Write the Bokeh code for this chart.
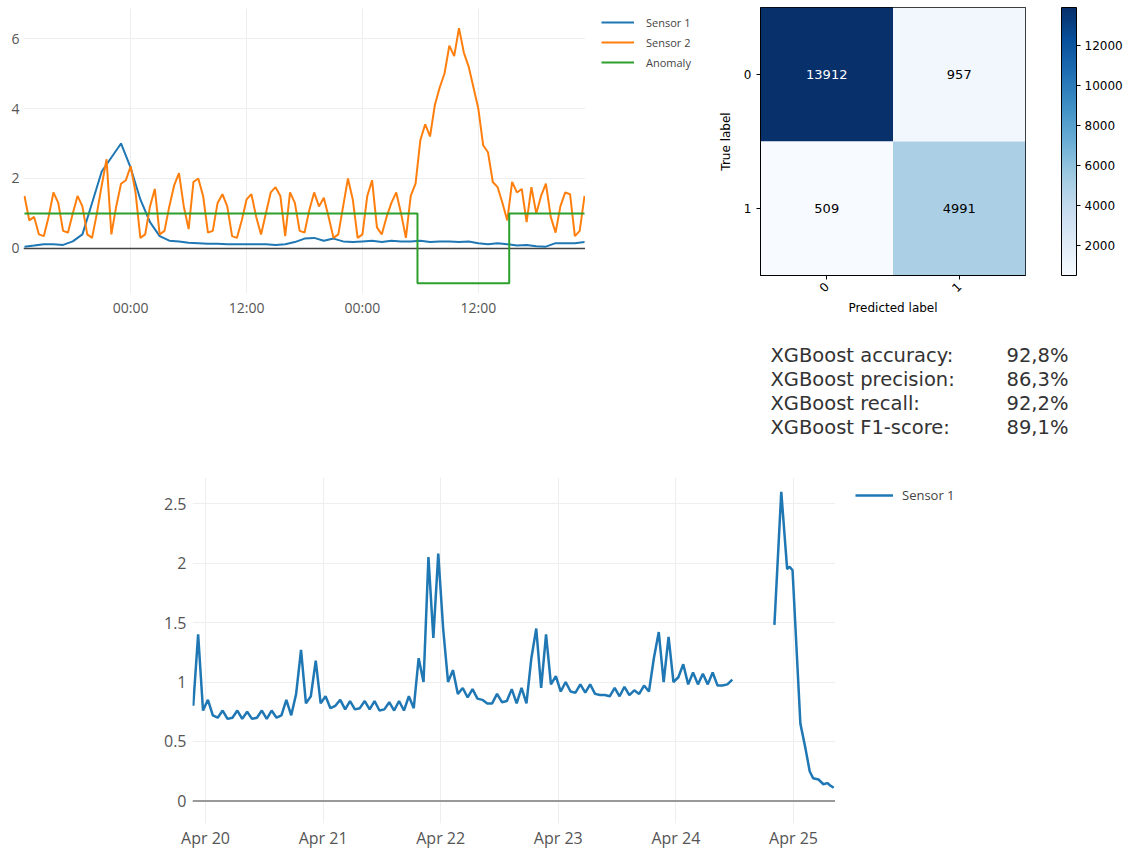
import pandas as pd
from math import pi

from bokeh.core.properties import value
from bokeh.embed import file_html
from bokeh.layouts import column, row
from bokeh.models import (ColorBar, ColumnDataSource, DatetimeTickFormatter,
                          FixedTicker, Legend, LegendItem, LinearColorMapper,
                          Range1d, Spacer, Span)
from bokeh.palettes import Blues256
from bokeh.plotting import figure
from bokeh.resources import INLINE

# ---------------------------------------------------------------- data
# Top panel: two sensors over ~2.5 days plus the anomaly flag
sensor_start = "2018-05-13 13:00"
sensor1_hourly = [
    0.05, 0.08, 0.12, 0.12, 0.10, 0.20, 0.40, 1.30, 2.20, 2.60,
    3.00, 2.30, 1.40, 0.75, 0.35, 0.22, 0.20, 0.16, 0.15, 0.13,
    0.13, 0.12, 0.12, 0.12, 0.12, 0.12, 0.10, 0.12, 0.18, 0.28,
    0.30, 0.22, 0.28, 0.20, 0.18, 0.20, 0.22, 0.18, 0.22, 0.20,
    0.20, 0.22, 0.18, 0.20, 0.20, 0.18, 0.20, 0.15, 0.12, 0.15,
    0.12, 0.08, 0.10, 0.06, 0.05, 0.15, 0.15, 0.15, 0.18,
]
sensor2_halfhourly = [
    1.50, 0.80, 0.90, 0.40, 0.35, 0.90, 1.60, 1.30, 0.50, 0.45,
    1.00, 1.50, 1.20, 0.40, 0.30, 1.00, 1.80, 2.55, 0.40, 1.20,
    1.85, 1.95, 2.35, 1.60, 0.30, 0.40, 1.20, 1.70, 0.40, 0.50,
    1.20, 1.80, 2.15, 1.20, 0.55, 1.90, 2.00, 1.50, 0.45, 0.50,
    1.30, 1.55, 1.20, 0.35, 0.30, 0.80, 1.40, 1.55, 0.90, 0.40,
    1.00, 1.60, 1.75, 1.50, 0.35, 1.60, 1.30, 0.50, 0.45, 1.10,
    1.60, 1.20, 1.45, 0.90, 0.30, 0.40, 1.20, 2.00, 1.40, 0.30,
    0.40, 1.50, 1.95, 0.60, 0.40, 0.90, 1.30, 1.60, 1.00, 0.30,
    1.50, 1.85, 3.10, 3.55, 3.20, 4.10, 4.60, 5.00, 5.80, 5.50,
    6.30, 5.60, 5.20, 4.60, 4.00, 2.95, 2.75, 1.90, 1.75, 1.30,
    0.80, 1.90, 1.60, 1.70, 0.75, 1.75, 1.00, 1.50, 1.85, 0.90,
    0.45, 1.20, 1.60, 1.55, 0.35, 0.50, 1.50,
]
anomaly_times = ["2018-05-13 13:00", "2018-05-15 05:42", "2018-05-15 15:12", "2018-05-15 23:00"]
anomaly_values = [1, -1, 1, 1]
top_x_window = ["2018-05-13 12:54", "2018-05-15 23:06"]
top_tick_times = ["2018-05-14 00:00", "2018-05-14 12:00", "2018-05-15 00:00", "2018-05-15 12:00"]
top_y_ticks = [0, 2, 4, 6]

# Confusion matrix of the classifier
class_labels = ["0", "1"]
conf_true = [0, 0, 1, 1]
conf_pred = [0, 1, 0, 1]
conf_counts = [13912, 957, 509, 4991]
colorbar_ticks = [2000, 4000, 6000, 8000, 10000, 12000]

# Scores
metric_names = ["XGBoost accuracy:", "XGBoost precision:", "XGBoost recall:", "XGBoost F1-score:"]
metric_values = ["92,8%", "86,3%", "92,2%", "89,1%"]

# Bottom panel: Sensor 1 over a week (hourly), then a short tail after a gap
week_start = "2017-04-19 21:30"
sensor1_week = [
    0.80, 1.40, 0.76, 0.85, 0.72, 0.70, 0.76, 0.69, 0.70, 0.76,
    0.69, 0.75, 0.69, 0.70, 0.76, 0.69, 0.76, 0.70, 0.72, 0.85,
    0.72, 0.90, 1.27, 0.82, 0.88, 1.18, 0.82, 0.88, 0.78, 0.80,
    0.85, 0.77, 0.84, 0.77, 0.78, 0.84, 0.77, 0.84, 0.76, 0.77,
    0.83, 0.76, 0.84, 0.76, 0.88, 0.78, 1.20, 1.00, 2.05, 1.37,
    2.08, 1.45, 1.00, 1.10, 0.90, 0.95, 0.87, 0.94, 0.86, 0.85,
    0.82, 0.82, 0.90, 0.83, 0.84, 0.94, 0.82, 0.95, 0.82, 1.20,
    1.45, 0.95, 1.40, 0.98, 1.05, 0.92, 1.00, 0.92, 0.91, 0.98,
    0.91, 0.98, 0.90, 0.89, 0.89, 0.88, 0.95, 0.88, 0.96, 0.89,
    0.93, 0.90, 0.97, 0.92, 1.20, 1.42, 1.00, 1.38, 1.00, 1.04,
    1.15, 0.98, 1.08, 0.98, 1.07, 0.98, 1.08, 0.97, 0.97, 0.98, 1.02,
]
tail_times = [
    "2017-04-24 20:06", "2017-04-24 21:30", "2017-04-24 22:42", "2017-04-24 23:12",
    "2017-04-24 23:48", "2017-04-25 01:24", "2017-04-25 02:24", "2017-04-25 03:18",
    "2017-04-25 04:00", "2017-04-25 05:06", "2017-04-25 06:06", "2017-04-25 06:54",
    "2017-04-25 07:30", "2017-04-25 08:12",
]
tail_values = [1.48, 2.60, 1.95, 1.97, 1.94, 0.65, 0.45, 0.25, 0.19, 0.18, 0.14, 0.15, 0.13, 0.11]
bottom_x_window = ["2017-04-19 21:21", "2017-04-25 08:34"]
bottom_tick_days = ["2017-04-20", "2017-04-21", "2017-04-22", "2017-04-23", "2017-04-24", "2017-04-25"]
bottom_y_ticks = [0, 0.5, 1, 1.5, 2, 2.5]
bottom_y_labels = ["0", "0.5", "1", "1.5", "2", "2.5"]

# ---------------------------------------------------------------- helpers
BLUE, ORANGE, GREEN = "#1f77b4", "#ff7f0e", "#2ca02c"
PLOTLY_FONT = "Open Sans"
MPL_FONT = "DejaVu Sans"


def ms(t):
    return pd.Timestamp(t).value // 10**6


def ts(t):
    return pd.Timestamp(t).to_pydatetime()


def plotly_axes(p, font_size, standoff_x, standoff_y):
    for ax in (p.xaxis, p.yaxis):
        ax.axis_line_color = None
        ax.major_tick_line_color = None
        ax.minor_tick_line_color = None
        ax.major_tick_out = 0
        ax.major_tick_in = 0
        ax.minor_tick_out = 0
        ax.minor_tick_in = 0
        ax.major_label_text_font = PLOTLY_FONT
        ax.major_label_text_font_size = font_size
        ax.major_label_text_color = "#555555"
    p.xaxis.major_label_standoff = standoff_x
    p.yaxis.major_label_standoff = standoff_y
    p.xgrid.grid_line_color = "#eeeeee"
    p.ygrid.grid_line_color = "#eeeeee"
    p.outline_line_color = None


def legend_panel(width, height, entries, left, top, glyph_width, standoff, font_size):
    """A strip that only shows a legend for the series of the chart on its left.

    Each series is added again here but sits far outside this strip's (0..1)
    ranges, so only its legend entry is visible."""
    f = figure(width=width, height=height, x_range=Range1d(0, 1), y_range=Range1d(0, 1),
               min_border_left=left, min_border_top=top, min_border_right=0, min_border_bottom=0,
               x_axis_location=None, y_axis_location=None,
               toolbar_location=None, output_backend="svg")
    f.grid.visible = False
    f.outline_line_color = None
    items = []
    for label, xs, ys, color, lw in entries:
        r = f.line(x=xs, y=ys, color=color, line_width=lw)
        items.append(LegendItem(label=label, renderers=[r]))
    f.add_layout(Legend(items=items, location="top_left", padding=0, margin=0, spacing=0,
                        glyph_width=glyph_width, glyph_height=20, label_height=20,
                        label_standoff=standoff, label_text_font=PLOTLY_FONT,
                        label_text_font_size=font_size, label_text_color="#444444",
                        border_line_color=None, background_fill_alpha=0))
    return f


# ---------------------------------------------------------------- top-left: sensors
t_s1 = pd.date_range(sensor_start, periods=len(sensor1_hourly), freq="60min")
t_s2 = pd.date_range(sensor_start, periods=len(sensor2_halfhourly), freq="30min")
t_anom = [ts(t) for t in anomaly_times]

p1 = figure(x_axis_type="datetime", frame_width=562, frame_height=285,
            min_border_left=23, min_border_right=0, min_border_top=8, min_border_bottom=37,
            x_range=Range1d(ts(top_x_window[0]), ts(top_x_window[1])),
            y_range=Range1d(-1.29, 6.86),
            toolbar_location=None, output_backend="svg")
plotly_axes(p1, "14px", 4, 4)
p1.xaxis.ticker = FixedTicker(ticks=[ms(t) for t in top_tick_times])
p1.xaxis.formatter = DatetimeTickFormatter(hours="%H:%M", hourmin="%H:%M", days="%H:%M",
                                           minutes="%H:%M", months="%H:%M", years="%H:%M")
p1.yaxis.ticker = FixedTicker(ticks=top_y_ticks)

p1.add_layout(Span(location=0, dimension="width", line_color="#444444",
                   line_width=1.5, level="underlay"))

p1.line(t_s1, sensor1_hourly, color=BLUE, line_width=2)
p1.line(t_s2, sensor2_halfhourly, color=ORANGE, line_width=2)
p1.step(t_anom, anomaly_values, mode="after", color=GREEN, line_width=2)

leg1 = legend_panel(115, 330,
                    [("Sensor 1", t_s1, sensor1_hourly, BLUE, 2),
                     ("Sensor 2", t_s2, sensor2_halfhourly, ORANGE, 2),
                     ("Anomaly", t_anom, anomaly_values, GREEN, 2)],
                    16, 12, 33, 12, "11px")

# ---------------------------------------------------------------- top-right: confusion matrix
mapper = LinearColorMapper(palette=list(reversed(Blues256)), low=min(conf_counts), high=max(conf_counts))
threshold = max(conf_counts) / 2
cm_src = ColumnDataSource(dict(
    pred=conf_pred, true=conf_true, count=conf_counts,
    label=[str(c) for c in conf_counts],
    label_color=["white" if c > threshold else "black" for c in conf_counts],
))

p2 = figure(width=425, height=330,
            min_border_left=60, min_border_top=7, min_border_right=95, min_border_bottom=55,
            x_range=Range1d(-0.5, 1.5), y_range=Range1d(1.5, -0.5),
            toolbar_location=None, output_backend="svg")
p2.rect(x="pred", y="true", width=1, height=1, source=cm_src,
        fill_color={"field": "count", "transform": mapper}, line_color=None)
p2.text(x="pred", y="true", text="label", source=cm_src,
        text_color={"field": "label_color"}, text_align="center", text_baseline="middle",
        text_font=value(MPL_FONT), text_font_size="13px")
p2.grid.grid_line_color = None
p2.outline_line_color = "black"
p2.outline_line_width = 1
p2.outline_line_alpha = 1
for ax in (p2.xaxis, p2.yaxis):
    ax.ticker = FixedTicker(ticks=list(range(len(class_labels))))
    ax.major_label_overrides = {i: lab for i, lab in enumerate(class_labels)}
    ax.major_tick_out = 4
    ax.major_tick_in = 0
    ax.major_tick_line_color = "black"
    ax.minor_tick_line_color = None
    ax.axis_line_color = "black"
    ax.major_label_text_font = MPL_FONT
    ax.major_label_text_font_size = "12px"
    ax.major_label_text_color = "black"
    ax.axis_label_text_font = MPL_FONT
    ax.axis_label_text_font_size = "12px"
    ax.axis_label_text_font_style = "normal"
    ax.axis_label_text_color = "black"
p2.xaxis.major_label_orientation = pi / 4
p2.xaxis.axis_label = "Predicted label"
p2.yaxis.axis_label = "True label"
p2.xaxis.axis_label_standoff = 2
p2.yaxis.axis_label_standoff = 8

cbar = ColorBar(color_mapper=mapper, width=15, height=268, location=(36, 0),
                margin=0, padding=0,
                ticker=FixedTicker(ticks=colorbar_ticks),
                bar_line_color="black", major_tick_line_color="black",
                major_tick_in=0, major_tick_out=4, label_standoff=4,
                major_label_text_font=MPL_FONT, major_label_text_font_size="12px",
                major_label_text_color="black", background_fill_alpha=0)
p2.add_layout(cbar, "right")

# ---------------------------------------------------------------- scores block
p3 = figure(width=423, height=120, x_range=Range1d(0, 423), y_range=Range1d(3.958, -1.042),
            min_border=0, x_axis_location=None, y_axis_location=None,
            toolbar_location=None, output_backend="svg")
p3.grid.visible = False
p3.outline_line_color = None
rows = list(range(len(metric_names)))
p3.text(x=[70] * len(rows), y=rows, text=metric_names, text_baseline="middle",
        text_font=value(MPL_FONT), text_font_size="19.5px", text_color="#333333")
p3.text(x=[306] * len(rows), y=rows, text=metric_values, text_baseline="middle",
        text_font=value(MPL_FONT), text_font_size="19.5px", text_color="#333333")

# ---------------------------------------------------------------- bottom: Sensor 1 week
t_week = pd.date_range(week_start, periods=len(sensor1_week), freq="60min")
t_tail = [ts(t) for t in tail_times]

p4 = figure(x_axis_type="datetime", frame_width=643, frame_height=346,
            min_border_left=192, min_border_right=0, min_border_top=27, min_border_bottom=25,
            x_range=Range1d(ts(bottom_x_window[0]), ts(bottom_x_window[1])),
            y_range=Range1d(-0.19, 2.72),
            toolbar_location=None, output_backend="svg")
plotly_axes(p4, "16px", 3, 6)
p4.xaxis.ticker = FixedTicker(ticks=[ms(d) for d in bottom_tick_days])
p4.xaxis.formatter = DatetimeTickFormatter(days="%b %d", hours="%b %d", hourmin="%b %d",
                                           months="%b %d", years="%b %d")
p4.yaxis.ticker = FixedTicker(ticks=bottom_y_ticks)
p4.yaxis.major_label_overrides = dict(zip(bottom_y_ticks, bottom_y_labels))

p4.add_layout(Span(location=0, dimension="width", line_color="#999999",
                   line_width=2, level="underlay"))

p4.line(t_week, sensor1_week, color=BLUE, line_width=2.5)
p4.line(t_tail, tail_values, color=BLUE, line_width=2.5)

leg4 = legend_panel(150, 398, [("Sensor 1", t_week, sensor1_week, BLUE, 2.5)],
                    20, 35, 38, 9, "13px")

# ---------------------------------------------------------------- page
# each piece sits in its own column so that rows do not line up plot frames
page = column(
    row(column(p1), column(leg1), column(p2)),
    row(Spacer(width=700, height=120), p3),
    row(column(p4), column(leg4)),
)

with open("out.html", "w") as fh:
    fh.write(file_html(page, INLINE))
